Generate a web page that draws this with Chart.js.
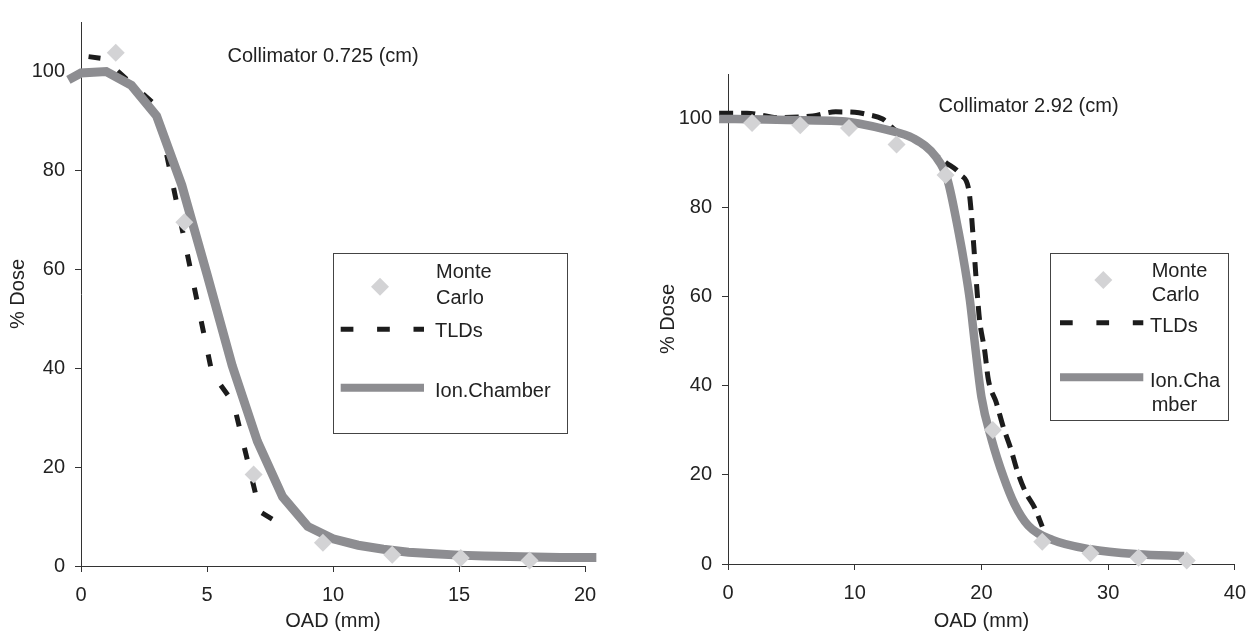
<!DOCTYPE html>
<html><head><meta charset="utf-8">
<script src="https://cdn.jsdelivr.net/npm/chart.js@4.4.1/dist/chart.umd.min.js"></script>
<style>
html,body{margin:0;padding:0;background:#fff;width:1257px;height:634px;overflow:hidden;}
#c1{position:absolute;left:0;top:0;}
#c2{position:absolute;left:625px;top:0;}
</style></head><body>
<canvas id="c1" width="625" height="634"></canvas>
<canvas id="c2" width="632" height="634"></canvas>
<script>
// ---------- data: left panel (Collimator 0.725 cm) ----------
const leftMcX  = [1.38, 4.1, 6.85, 9.6, 12.35, 15.07, 17.8];
const leftMcY  = [103.8, 69.5, 18.5, 4.7, 2.3, 1.6, 1.1];
const leftTldX = [0.3, 0.9, 3.0, 5.2, 6.05, 7.1, 8.3];
const leftTldY = [103, 102.6, 93, 39, 33, 11, 7.3];
const leftIonX = [-0.5, 0, 1, 2, 3, 4, 5, 6, 7, 8, 9, 10, 11, 12, 13, 14, 15, 16, 17, 18, 19, 20.45];
const leftIonY = [98.3, 99.7, 100, 97.2, 91, 77, 59, 40.5, 25.2, 14, 8, 5.5, 4.2, 3.4, 2.8, 2.5, 2.2, 2.0, 1.9, 1.8, 1.7, 1.7];
const leftXTicks = [0, 5, 10, 15, 20];
const leftYTicks = [0, 20, 40, 60, 80, 100];

// ---------- data: right panel (Collimator 2.92 cm) ----------
const rightMcX  = [1.9, 5.7, 9.55, 13.3, 17.17, 20.9, 24.8, 28.6, 32.4, 36.2];
const rightMcY  = [99, 98.5, 97.9, 94.2, 87.3, 30.1, 5.0, 2.4, 1.4, 0.8];
const rightTldX = [-0.7, 1.5, 4, 6.7, 8.5, 10, 11, 12.2, 13.2, 15, 16, 17.2, 18.4, 19.0, 19.2, 19.4, 19.55, 19.7, 19.85, 20.25, 20.55, 21.15, 21.75, 22.3, 22.85, 23.5, 24.2, 24.8];
const rightTldY = [101.2, 101.2, 100.2, 100.6, 101.5, 101.4, 100.9, 99.9, 97.4, 94.7, 92.5, 90.1, 87.3, 84, 78.8, 71.2, 65.2, 59.6, 54.8, 48, 41.3, 36.4, 30.5, 26, 20.7, 16, 12.6, 8.4];
const rightIonX = [-0.7, 3, 6, 9, 10.3, 12.5, 14.6, 16.4, 17.3, 18.2, 18.7, 19.1, 19.5, 20.0, 20.8, 21.75, 22.6, 23.7, 25.6, 28.6, 32.3, 36.0];
const rightIonY = [99.9, 99.8, 99.6, 99.4, 98.9, 97.5, 95.6, 91.4, 86.5, 74.5, 66.5, 59, 49, 37.5, 28, 19.5, 13.5, 8.6, 5.4, 3.3, 2.2, 1.8];
const rightXTicks = [0, 10, 20, 30, 40];
const rightYTicks = [0, 20, 40, 60, 80, 100];

const seriesNames = ['Monte Carlo', 'TLDs', 'Ion.Chamber'];
const xTitle = 'OAD (mm)';
const yTitle = '% Dose';

// ---------- styles ----------
const FONT = "'Liberation Sans', Arial, sans-serif";
const TEXT = '#222';
const AXIS = '#333';
const ION = '#8d8d91';
const MC = '#d3d3d5';
const TLD = '#1c1c1c';

Chart.defaults.font.family = FONT;
Chart.defaults.font.size = 20;
Chart.defaults.color = TEXT;

const pts = (xs, ys) => xs.map((x, i) => ({x: x, y: ys[i]}));

function scale(min, max, tickVals, isX, fixedSize, titleText, titlePad, tickPad) {
  return {
    type: 'linear', min: min, max: max,
    afterBuildTicks: s => { s.ticks = tickVals.map(v => ({value: v})); },
    afterFit: s => { if (isX) s.height = fixedSize; else s.width = fixedSize; },
    ticks: {color: TEXT, font: {size: 20}, padding: tickPad, maxRotation: 0, autoSkip: false},
    grid: {display: true, drawOnChartArea: false, drawTicks: true, tickLength: 6, color: AXIS, lineWidth: 1},
    border: {display: true, color: AXIS, width: 1},
    title: {display: true, text: titleText, color: TEXT, font: {size: 20}, padding: titlePad}
  };
}

function overlay(o) {
  return {
    id: 'overlay',
    afterDraw(chart) {
      const ctx = chart.ctx, dx = o.offsetX;
      ctx.save();
      ctx.font = '20px ' + FONT;
      ctx.fillStyle = TEXT;
      ctx.textBaseline = 'alphabetic';
      ctx.textAlign = 'left';
      ctx.fillText(o.title, o.titleX - dx, o.titleY);
      const b = o.box;
      ctx.fillStyle = '#fff';
      ctx.fillRect(b[0] - dx, b[1], b[2] - b[0], b[3] - b[1]);
      ctx.strokeStyle = '#444';
      ctx.lineWidth = 1;
      ctx.strokeRect(Math.round(b[0] - dx) + 0.5, Math.round(b[1]) + 0.5, Math.round(b[2] - b[0]), Math.round(b[3] - b[1]));
      const d = o.diamond;
      ctx.fillStyle = MC;
      ctx.beginPath();
      ctx.moveTo(d[0] - dx - 9, d[1]); ctx.lineTo(d[0] - dx, d[1] - 9);
      ctx.lineTo(d[0] - dx + 9, d[1]); ctx.lineTo(d[0] - dx, d[1] + 9);
      ctx.closePath(); ctx.fill();
      ctx.strokeStyle = TLD; ctx.lineWidth = 5; ctx.setLineDash([12.7, 23.7]);
      ctx.beginPath(); ctx.moveTo(o.lineX[0] - dx, o.dashY); ctx.lineTo(o.lineX[1] - dx, o.dashY); ctx.stroke();
      ctx.setLineDash([]);
      ctx.strokeStyle = ION; ctx.lineWidth = 8;
      ctx.beginPath(); ctx.moveTo(o.lineX[0] - dx, o.ionY); ctx.lineTo(o.lineX[1] - dx, o.ionY); ctx.stroke();
      ctx.fillStyle = TEXT;
      o.texts.forEach(t => ctx.fillText(t[0], t[1] - dx, t[2]));
      ctx.restore();
    }
  };
}

function makeChart(id, d) {
  return new Chart(document.getElementById(id), {
    type: 'scatter',
    data: {datasets: [
      {label: seriesNames[0], data: pts(d.mcX, d.mcY), showLine: false, pointStyle: 'rectRot', pointRadius: 9, pointHoverRadius: 9,
       backgroundColor: MC, borderColor: MC, borderWidth: 0, order: 0, clip: false},
      {label: seriesNames[2], data: pts(d.ionX, d.ionY), showLine: true, pointRadius: 0, borderColor: ION, borderWidth: d.ionW,
       cubicInterpolationMode: d.smooth ? 'monotone' : 'default', tension: 0, order: 1, clip: false},
      {label: seriesNames[1], data: pts(d.tldX, d.tldY), showLine: true, pointRadius: 0, borderColor: TLD, borderWidth: 5,
       borderDash: d.dash, cubicInterpolationMode: d.smooth ? 'monotone' : 'default', tension: 0, order: 2, clip: false}
    ]},
    options: {
      responsive: false, animation: false, devicePixelRatio: 1,
      layout: {padding: d.pad},
      plugins: {legend: {display: false}, tooltip: {enabled: false}},
      scales: {
        x: scale(d.xMin, d.xMax, d.xTicks, true, d.xH, xTitle, {top: 0, bottom: 1}, 11),
        y: scale(0, 110, d.yTicks, false, d.yW, yTitle, {top: d.yTitlePad, bottom: 0}, 10)
      }
    },
    plugins: [overlay(d.ov)]
  });
}

makeChart('c1', {
  mcX: leftMcX, mcY: leftMcY, tldX: leftTldX, tldY: leftTldY, ionX: leftIonX, ionY: leftIonY,
  xTicks: leftXTicks, yTicks: leftYTicks, xMin: 0, xMax: 20, smooth: false, ionW: 9, dash: [12, 22],
  pad: {left: 0, top: 15, right: 40, bottom: 0}, xH: 68, yW: 81, yTitlePad: 6,
  ov: {offsetX: 0, title: 'Collimator 0.725 (cm)', titleX: 227.5, titleY: 61.5,
       box: [332.7, 252.7, 566.7, 432.7], diamond: [380, 286.7], lineX: [340.7, 424], dashY: 329.3, ionY: 387.7,
       texts: [['Monte', 436, 278.3], ['Carlo', 436, 304], ['TLDs', 435, 336.7], ['Ion.Chamber', 435, 396.7]]}
});

makeChart('c2', {
  mcX: rightMcX, mcY: rightMcY, tldX: rightTldX, tldY: rightTldY, ionX: rightIonX, ionY: rightIonY,
  xTicks: rightXTicks, yTicks: rightYTicks, xMin: 0, xMax: 40, smooth: true, ionW: 8.5, dash: [14, 8],
  pad: {left: 0, top: 74, right: 14, bottom: 0}, xH: 70, yW: 103, yTitlePad: 31,
  ov: {offsetX: 625, title: 'Collimator 2.92 (cm)', titleX: 938.5, titleY: 111.7,
       box: [1050, 253.3, 1228.3, 420], diamond: [1103.3, 280], lineX: [1060, 1143.3], dashY: 322.7, ionY: 377.3,
       texts: [['Monte', 1151.7, 276.7], ['Carlo', 1151.7, 301], ['TLDs', 1150, 331.7], ['Ion.Cha', 1150, 386.7], ['mber', 1151.7, 410.7]]}
});
</script>
</body></html>
